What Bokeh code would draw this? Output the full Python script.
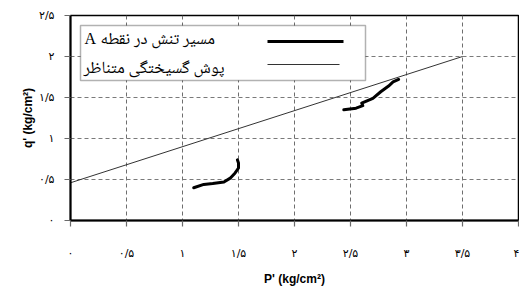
from bokeh.plotting import figure
from bokeh.models import Range1d, BoxAnnotation, Arrow, Label, FixedTicker
from bokeh.embed import file_html
from bokeh.resources import INLINE

# ---- data ----
x_ticks = [0, 0.5, 1, 1.5, 2, 2.5, 3, 3.5, 4]
x_tick_labels = ["۰", "۰/۵", "۱", "۱/۵", "۲", "۲/۵", "۳", "۳/۵", "۴"]
y_ticks = [0, 0.5, 1, 1.5, 2, 2.5]
y_tick_labels = ["۰", "۰/۵", "۱", "۱/۵", "۲", "۲/۵"]

# stress path at point A (two segments)
path1_p = [1.10, 1.19, 1.27, 1.32, 1.37, 1.43, 1.47, 1.50, 1.50, 1.49]
path1_q = [0.40, 0.44, 0.45, 0.46, 0.47, 0.52, 0.58, 0.64, 0.70, 0.74]
path2_p = [2.44, 2.55, 2.61, 2.60, 2.70, 2.77, 2.84, 2.88, 2.93]
path2_q = [1.35, 1.37, 1.40, 1.43, 1.49, 1.57, 1.64, 1.69, 1.72]

# corresponding failure envelope
fail_p = [0.0, 3.5]
fail_q = [0.46, 2.0]

legend_text = ["مسیر تنش در نقطه", "پوش گسیختگی متناظر"]
legend_point = "A"

X0, X1, Y0, Y1 = 0, 4, 0, 2.5
FW, FH = 448, 205

p = figure(frame_width=FW, frame_height=FH, output_backend="svg", toolbar_location=None,
           x_range=Range1d(X0, X1), y_range=Range1d(Y0, Y1),
           min_border_left=70, min_border_right=1, min_border_top=15, min_border_bottom=64,
           background_fill_color="white", border_fill_color="white")

p.outline_line_color = "black"
p.outline_line_width = 1.5

p.xaxis.ticker = FixedTicker(ticks=x_ticks)
p.yaxis.ticker = FixedTicker(ticks=y_ticks)
p.xaxis.major_label_overrides = {t: l for t, l in zip(x_ticks, x_tick_labels)}
p.yaxis.major_label_overrides = {t: l for t, l in zip(y_ticks, y_tick_labels)}

# dashed grid (glyph level so it shows in the SVG output)
p.xgrid.visible = False
p.ygrid.visible = False
inner_x = x_ticks[1:-1]
inner_y = y_ticks[1:-1]
p.vspan(x=inner_x, line_color="#6e6e6e", line_dash="4 3", line_width=1)
p.multi_line([[X0, X1]] * len(inner_y), [[t, t] for t in inner_y],
             line_color="#7a7a7a", line_dash="4 3", line_width=1)

for ax in (p.xaxis[0], p.yaxis[0]):
    ax.axis_line_color = "black"
    ax.axis_line_width = 2
    ax.major_tick_line_color = "#6a6a6a"
    ax.major_tick_line_width = 1.2
    ax.major_tick_out = 6
    ax.major_tick_in = 0
    ax.minor_tick_line_color = None
    ax.major_label_text_font = "DejaVu Sans"
    ax.major_label_text_font_size = "11px"
    ax.major_label_text_color = "black"
    ax.axis_label_text_font = "Liberation Sans"
    ax.axis_label_text_font_style = "bold"
    ax.axis_label_text_font_size = "12px"
    ax.axis_label_text_color = "black"

p.xaxis.major_label_standoff = 20
p.yaxis.major_label_standoff = 10
p.xaxis.axis_label = "P' (kg/cm²)"
p.yaxis.axis_label = "q' (kg/cm²)"
p.xaxis.axis_label_standoff = 9
p.yaxis.axis_label_standoff = 1

p.line(fail_p, fail_q, line_color="#333333", line_width=1)
p.line(path1_p, path1_q, line_color="black", line_width=3, line_join="round", line_cap="round")
p.line(path2_p, path2_q, line_color="black", line_width=3, line_join="round", line_cap="round")

# ---- custom right-to-left legend (layout in frame pixels) ----
def dx(px):
    return X0 + (X1 - X0) * px / FW

def dy(py_from_top):
    return Y1 - (Y1 - Y0) * py_from_top / FH

p.add_layout(BoxAnnotation(left=dx(10), right=dx(295), top=dy(10), bottom=dy(65),
                           fill_color="white", fill_alpha=1.0,
                           line_color="black", line_width=1.5))
p.add_layout(Arrow(end=None, x_start=dx(197), x_end=dx(273), y_start=dy(26), y_end=dy(26),
                   line_color="black", line_width=3))
p.add_layout(Arrow(end=None, x_start=dx(197), x_end=dx(269), y_start=dy(49), y_end=dy(49),
                   line_color="#333333", line_width=1))
ar_font = "Noto Naskh Arabic, Amiri, DejaVu Sans, serif"
p.add_layout(Label(x=dx(14), y=dy(23), text=legend_point, text_align="left",
                   text_baseline="middle", text_font="Liberation Serif",
                   text_font_size="16px", text_color="black"))
p.add_layout(Label(x=dx(30), y=dy(25), text=legend_text[0], text_align="left",
                   text_baseline="middle", text_font=ar_font,
                   text_font_size="17px", text_color="black"))
p.add_layout(Label(x=dx(13), y=dy(54), text=legend_text[1], text_align="left",
                   text_baseline="middle", text_font=ar_font,
                   text_font_size="17px", text_color="black"))

open("out.html", "w").write(file_html(p, INLINE))
